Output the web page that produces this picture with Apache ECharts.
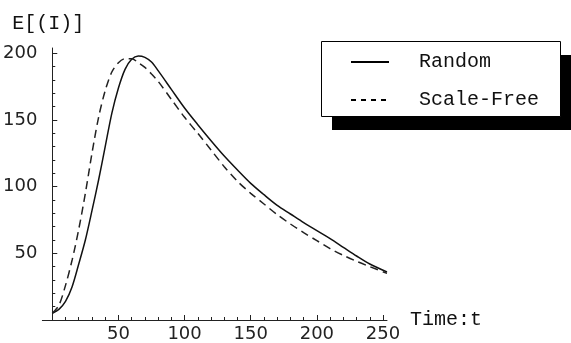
<!DOCTYPE html>
<html>
<head>
<meta charset="utf-8">
<script src="https://cdn.jsdelivr.net/npm/echarts@6/dist/echarts.min.js"></script>
<style>html,body{margin:0;padding:0;background:#fff}#c{width:571px;height:343px}</style>
</head>
<body>
<div id="c"></div>
<script>
const tRandom = [0,5,10,15,20,25,30,35,40,45,50,55,60,65,70,75,80,90,100,110,120,130,140,150,160,170,180,190,200,210,220,230,240,253];
const vRandom = [5,8,14,25,42,60,82,105,130,155,174,188,195.5,198,197,193.5,187,173,159,146.5,134.5,123,112.5,102.5,94,86,79.5,73,67,61,54.5,48,42,36];
const tScaleFree = [0,5,10,15,20,25,30,35,40,45,50,55,60,65,70,75,80,90,100,110,120,130,140,150,160,170,180,190,200,210,220,230,240,253];
const vScaleFree = [5,11,26,45,68,95,125,152,172,186,193,196,196,193,189.5,184.5,179,165.5,152,140,127.5,115,104,95,87,79,72,65.5,59.5,53.5,48.5,44,40,35];
const xMajor = [0,50,100,150,200,250];
const xLabels = [50,100,150,200,250];
const xMinor = [10,20,30,40,60,70,80,90,110,120,130,140,160,170,180,190,210,220,230,240];
const yMajor = [50,100,150,200];
const yLabels = [50,100,150,200];
const yMinor = [10,20,30,40,60,70,80,90,110,120,130,140,160,170,180,190];

const chart = echarts.init(document.getElementById('c'), null, {renderer:'canvas'});
const labelStyle = {color:'#222', fontFamily:'DejaVu Sans', fontSize:18};
const monoFont = 'Liberation Mono';
chart.setOption({
  animation:false,
  backgroundColor:'#fff',
  grid:{left:40, right:184, top:48, bottom:23, containLabel:false},
  graphic:[
    {type:'rect', left:332, top:55, z:0, shape:{width:239, height:75}, style:{fill:'#000'}},
    {type:'rect', left:321, top:41, z:1, shape:{width:239, height:75}, style:{fill:'#fff', stroke:'#000', lineWidth:1}}
  ],
  legend:{
    orient:'vertical', left:321, top:41, z:10,
    padding:[11,19,6,29],
    itemWidth:38, itemHeight:20, itemGap:18,
    itemStyle:{opacity:0},
    textStyle:{fontFamily:monoFont, fontSize:20, color:'#111', padding:[0,0,0,25]},
    data:[
      {name:'Random', lineStyle:{width:2, type:'solid', color:'#000'}},
      {name:'Scale-Free', lineStyle:{width:2, type:[5,5], color:'#000'}}
    ]
  },
  xAxis:[
    {type:'value', min:-7.5, max:253,
     name:'Time:t', nameLocation:'end', nameGap:23,
     nameTextStyle:{fontFamily:monoFont, fontSize:20, color:'#111'},
     axisLine:{show:true, onZero:true, lineStyle:{color:'#222', width:1}},
     axisTick:{show:true, inside:true, length:5, customValues:xMajor, lineStyle:{color:'#222'}},
     axisLabel:{show:true, customValues:xLabels, margin:5, ...labelStyle},
     splitLine:{show:false}},
    {type:'value', min:-7.5, max:253, position:'bottom',
     axisLine:{show:false, onZero:true},
     axisTick:{show:true, inside:true, length:3, customValues:xMinor, lineStyle:{color:'#222'}},
     axisLabel:{show:false}, splitLine:{show:false}}
  ],
  yAxis:[
    {type:'value', min:0, max:204, position:'left',
     name:'E[(I)]', nameLocation:'end', nameGap:14,
     nameTextStyle:{fontFamily:monoFont, fontSize:20, color:'#111', padding:[0,8,0,0]},
     axisLine:{show:true, onZero:true, lineStyle:{color:'#222', width:1}},
     axisTick:{show:true, inside:true, length:5, customValues:yMajor, lineStyle:{color:'#222'}},
     axisLabel:{show:true, customValues:yLabels, margin:5, ...labelStyle},
     splitLine:{show:false}},
    {type:'value', min:0, max:204, position:'left', offset:0,
     axisLine:{show:false, onZero:true},
     axisTick:{show:true, inside:true, length:3, customValues:yMinor, lineStyle:{color:'#222'}},
     axisLabel:{show:false}, splitLine:{show:false}}
  ],
  series:[
    {name:'Random', type:'line', smooth:0.3, symbol:'none',
     data:tRandom.map((t,i)=>[t,vRandom[i]]),
     lineStyle:{color:'#111', width:1.5, type:'solid'}, itemStyle:{color:'#111'}},
    {name:'Scale-Free', type:'line', smooth:0.3, symbol:'none',
     data:tScaleFree.map((t,i)=>[t,vScaleFree[i]]),
     lineStyle:{color:'#222', width:1.5, type:[8,5]}, itemStyle:{color:'#222'}}
  ]
});
</script>
</body>
</html>
